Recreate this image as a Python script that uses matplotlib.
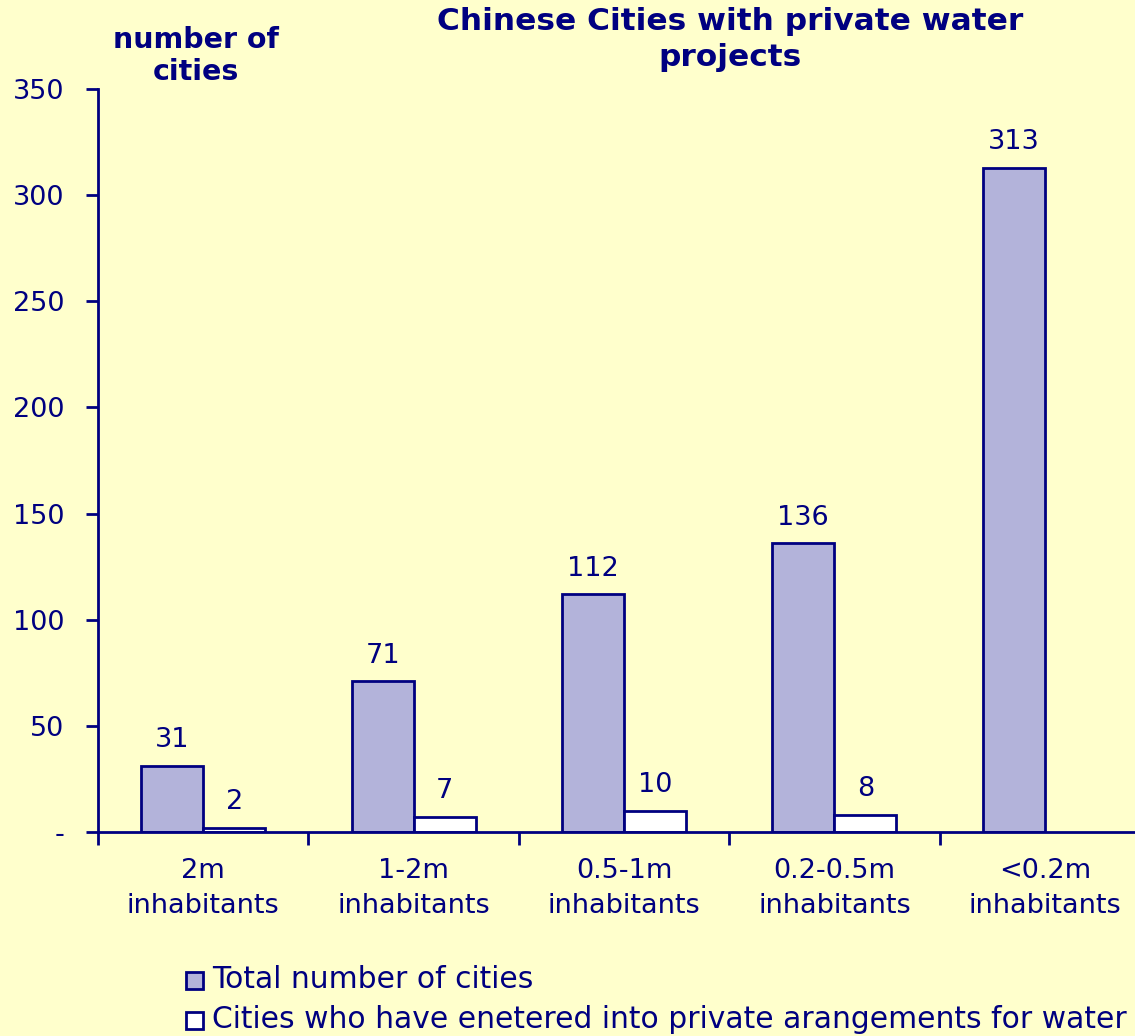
import numpy as np
import matplotlib.pyplot as plt
from matplotlib.patches import Rectangle

# Chart data
categories = ["2m\ninhabitants", "1-2m\ninhabitants", "0.5-1m\ninhabitants",
              "0.2-0.5m\ninhabitants", "<0.2m\ninhabitants"]
total_cities = [31, 71, 112, 136, 313]
private_cities = [2, 7, 10, 8, np.nan]
y_ticks = [0, 50, 100, 150, 200, 250, 300, 350]
y_tick_labels = ["-", "50", "100", "150", "200", "250", "300", "350"]
series_names = ["Total number of cities",
                "Cities who have enetered into private arangements for water"]

NAVY = "#000080"
BG = "#FFFFCC"
LAVENDER = "#B3B3DA"
W, H = 1135, 1036


def main():
    plt.rcParams["font.family"] = ["DejaVu Sans"]
    fig = plt.figure(figsize=(W / 100, H / 100), dpi=100, facecolor=BG)

    # axes in pixel terms: left 98, right ~1150 (runs past the edge), y 89..832
    left, right, top, bottom = 98, 1150, 89, 832
    ax = fig.add_axes([left / W, 1 - bottom / H, (right - left) / W, (bottom - top) / H])
    ax.set_facecolor(BG)

    n = len(categories)
    x = np.arange(n)
    bw = 0.295
    ax.bar(x - bw / 2, total_cities, bw, color=LAVENDER, edgecolor=NAVY, linewidth=2)
    ax.bar(x + bw / 2, private_cities, bw, color="white", edgecolor=NAVY, linewidth=2)

    for xi, v in zip(x, total_cities):
        ax.text(xi - bw / 2, v + 6, f"{v}", ha="center", va="bottom", color=NAVY, fontsize=19.5)
    for xi, v in zip(x, private_cities):
        if not np.isnan(v):
            ax.text(xi + bw / 2, v + 6, f"{int(v)}", ha="center", va="bottom", color=NAVY, fontsize=19.5)

    ax.set_xlim(-0.5, n - 0.5)
    ax.set_ylim(0, 350)
    ax.set_yticks(y_ticks)
    ax.set_yticklabels(y_tick_labels)
    ax.set_xticks(np.arange(n + 1) - 0.5)
    ax.set_xticklabels([])
    ax.set_xticks(x, minor=True)
    ax.set_xticklabels(categories, minor=True, linespacing=1.45)
    ax.tick_params(axis="x", which="minor", length=0, pad=19, labelsize=19.5, labelcolor=NAVY)
    ax.tick_params(axis="x", which="major", length=9, width=2, color=NAVY, direction="out")
    ax.tick_params(axis="y", length=9, width=2, color=NAVY, direction="out",
                   labelsize=19.5, labelcolor=NAVY, pad=15)

    for side in ["top", "right"]:
        ax.spines[side].set_visible(False)
    for side in ["left", "bottom"]:
        ax.spines[side].set_color(NAVY)
        ax.spines[side].set_linewidth(2)

    # titles
    fig.text(730 / W, 1 - 7 / H, "Chinese Cities with private water\nprojects",
             ha="center", va="top", color=NAVY, fontsize=22.5, fontweight="bold", linespacing=1.3)
    fig.text(196 / W, 1 - 26 / H, "number of\ncities", ha="center", va="top",
             color=NAVY, fontsize=20.5, fontweight="bold", linespacing=1.2)

    # legend drawn by hand
    for i, (name, fc) in enumerate(zip(series_names, [LAVENDER, "white"])):
        yc = 980 + i * 40
        fig.patches.append(Rectangle((186 / W, 1 - (yc + 9) / H), 17 / W, 17 / H,
                                     transform=fig.transFigure, facecolor=fc,
                                     edgecolor=NAVY, linewidth=2))
        fig.text(212 / W, 1 - yc / H, name, ha="left", va="center", color=NAVY, fontsize=21.4)

    fig.savefig("out.png", dpi=100, facecolor=BG)


if __name__ == "__main__":
    main()
